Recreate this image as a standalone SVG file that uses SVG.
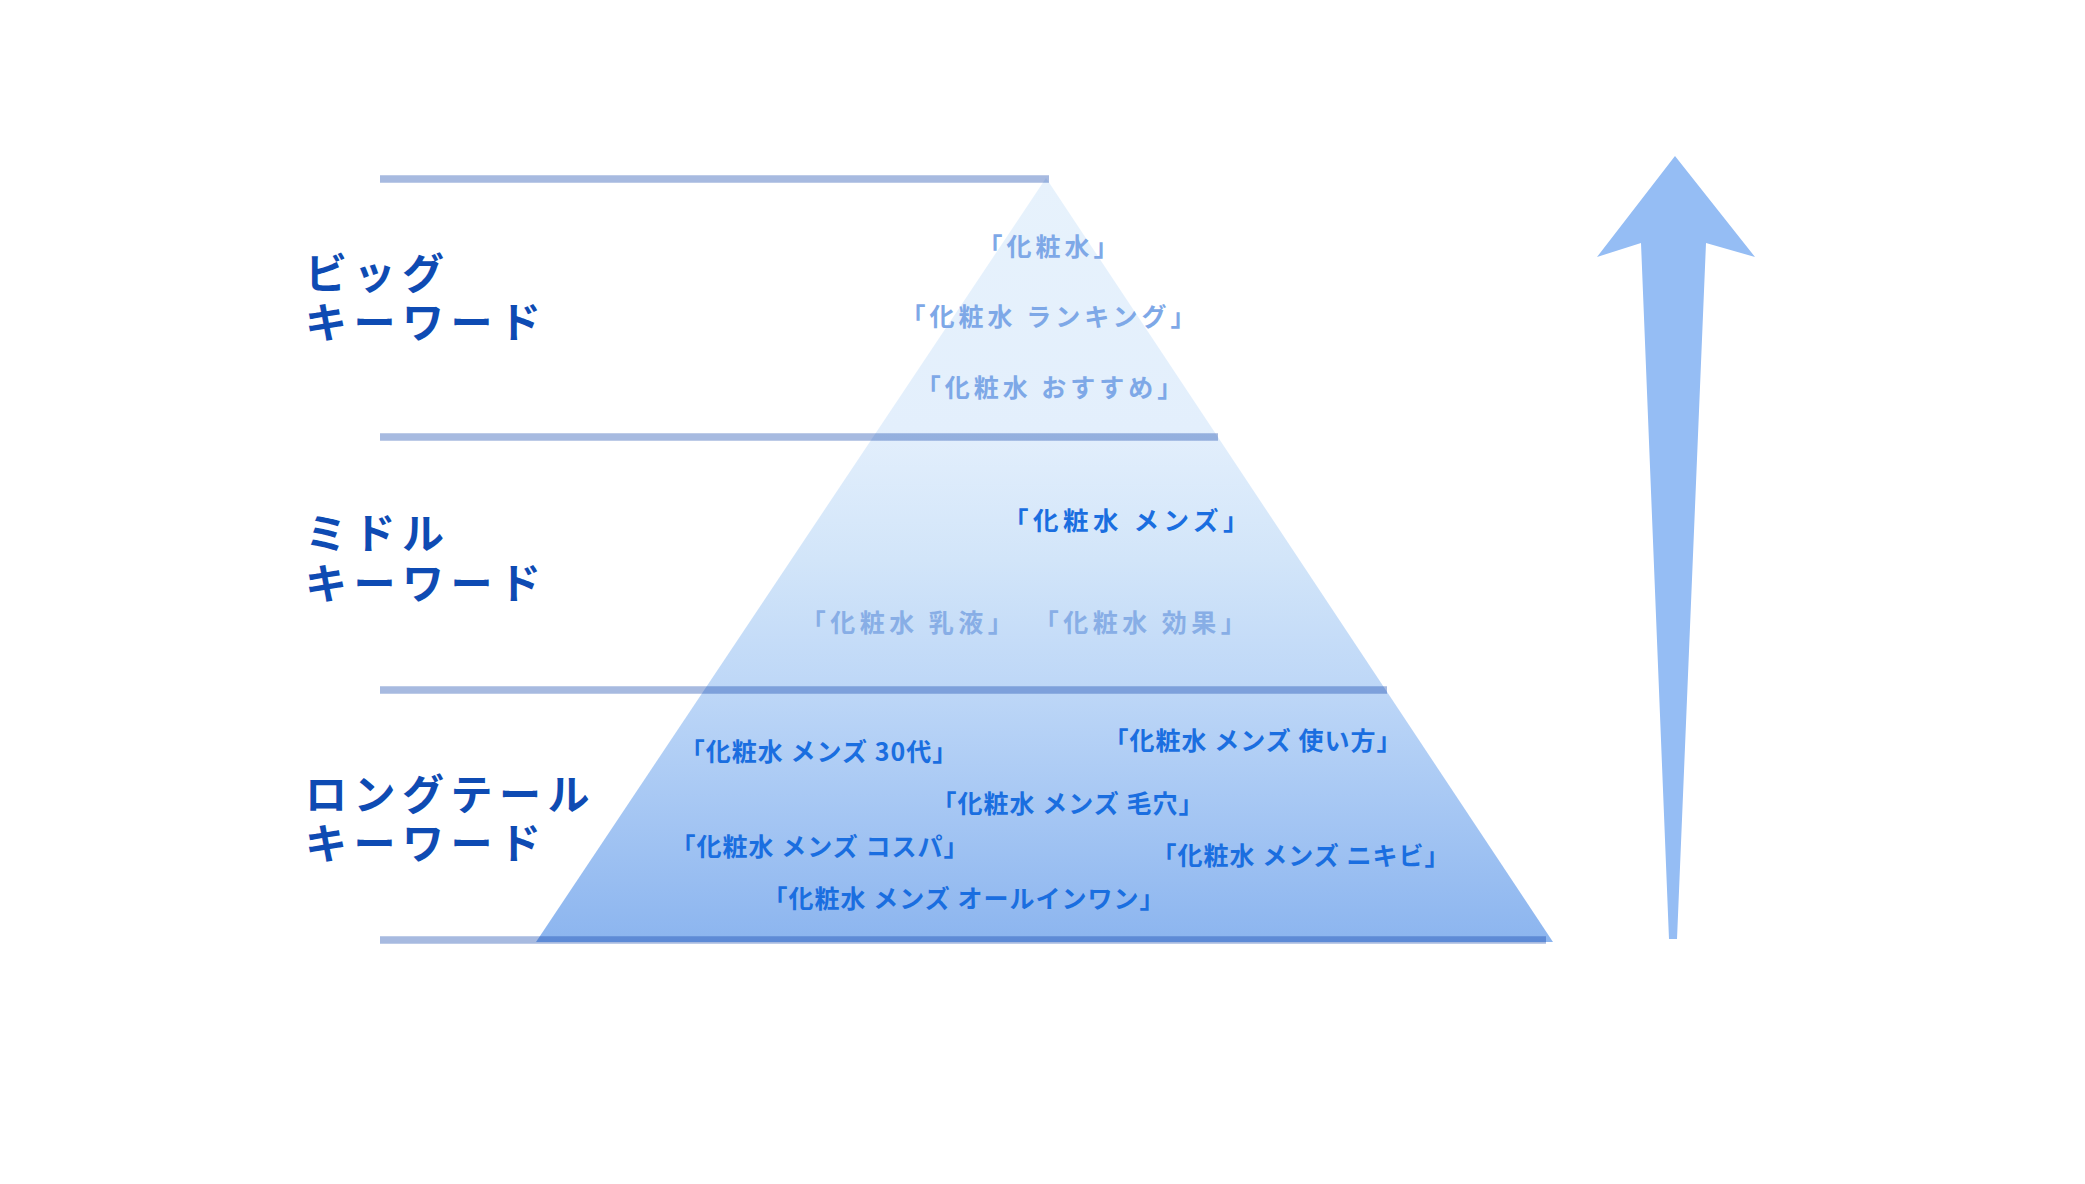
<svg xmlns="http://www.w3.org/2000/svg" width="2085" height="1184" viewBox="0 0 2085 1184">
<defs>
<linearGradient id="pyr" gradientUnits="userSpaceOnUse" x1="0" y1="178" x2="0" y2="941">
<stop offset="0" stop-color="#e7f2fc"/>
<stop offset="0.33" stop-color="#e3effc"/>
<stop offset="0.5" stop-color="#d2e5f9"/>
<stop offset="0.68" stop-color="#bcd6f7"/>
<stop offset="1" stop-color="#8cb5ef"/>
</linearGradient>
<style>
.lvl{stroke:#0a3fa8;stroke-opacity:0.36;stroke-width:7.5;fill:none}
.lab{font-family:"Noto Sans CJK JP","Noto Sans",sans-serif;font-weight:700;font-size:42px;letter-spacing:6.5px;fill:#0e4bb3}
.kw{font-family:"Noto Sans CJK JP","Noto Sans",sans-serif;font-weight:700;text-anchor:middle}
.top{font-size:25px;letter-spacing:4px;fill:#7ea8e7}
.mid{font-size:25.5px;letter-spacing:4.5px;fill:#1a6ee0}
.midf{font-size:25px;letter-spacing:4.5px;fill:#88aee6}
.low{font-size:25px;letter-spacing:1px;fill:#1a6ee0}
</style>
</defs>
<rect width="2085" height="1184" fill="#ffffff"/>
<g id="pyramid">
<polygon points="1046,178 1553,942 536,942" fill="url(#pyr)"/>
</g>
<g id="connectors">
<line class="lvl" x1="380" y1="179" x2="1049" y2="179"/>
<line class="lvl" x1="380" y1="437" x2="1218" y2="437"/>
<line class="lvl" x1="380" y1="690" x2="1387" y2="690"/>
<line class="lvl" x1="380" y1="940" x2="1546" y2="940"/>
</g>
<g id="label-big">
<text class="lab" x="305" y="289">ビッグ<tspan x="305" y="338">キーワード</tspan></text>
</g>
<g id="label-middle">
<text class="lab" x="305" y="549">ミドル<tspan x="305" y="599">キーワード</tspan></text>
</g>
<g id="label-longtail">
<text class="lab" x="305" y="810">ロングテール<tspan x="305" y="859">キーワード</tspan></text>
</g>
<g id="keywords-big">
<text class="kw top" x="1050" y="256">「化粧水」</text>
<text class="kw top" x="1050" y="326">「化粧水 ランキング」</text>
<text class="kw top" x="1051" y="397">「化粧水 おすすめ」</text>
</g>
<g id="keywords-middle">
<text class="kw mid" x="1128" y="530">「化粧水 メンズ」</text>
<text class="kw midf" x="909" y="632">「化粧水 乳液」</text>
<text class="kw midf" x="1142" y="632">「化粧水 効果」</text>
</g>
<g id="keywords-longtail">
<text class="kw low" x="819" y="761">「化粧水 メンズ 30代」</text>
<text class="kw low" x="1253" y="750">「化粧水 メンズ 使い方」</text>
<text class="kw low" x="1068" y="813">「化粧水 メンズ 毛穴」</text>
<text class="kw low" x="820" y="856">「化粧水 メンズ コスパ」</text>
<text class="kw low" x="1301" y="865">「化粧水 メンズ ニキビ」</text>
<text class="kw low" x="964" y="908">「化粧水 メンズ オールインワン」</text>
</g>
<g id="arrow">
<polygon points="1675,156 1755,257 1706,243 1677,939 1669,939 1641,243 1597,257" fill="#95bdf4"/>
</g>
</svg>
